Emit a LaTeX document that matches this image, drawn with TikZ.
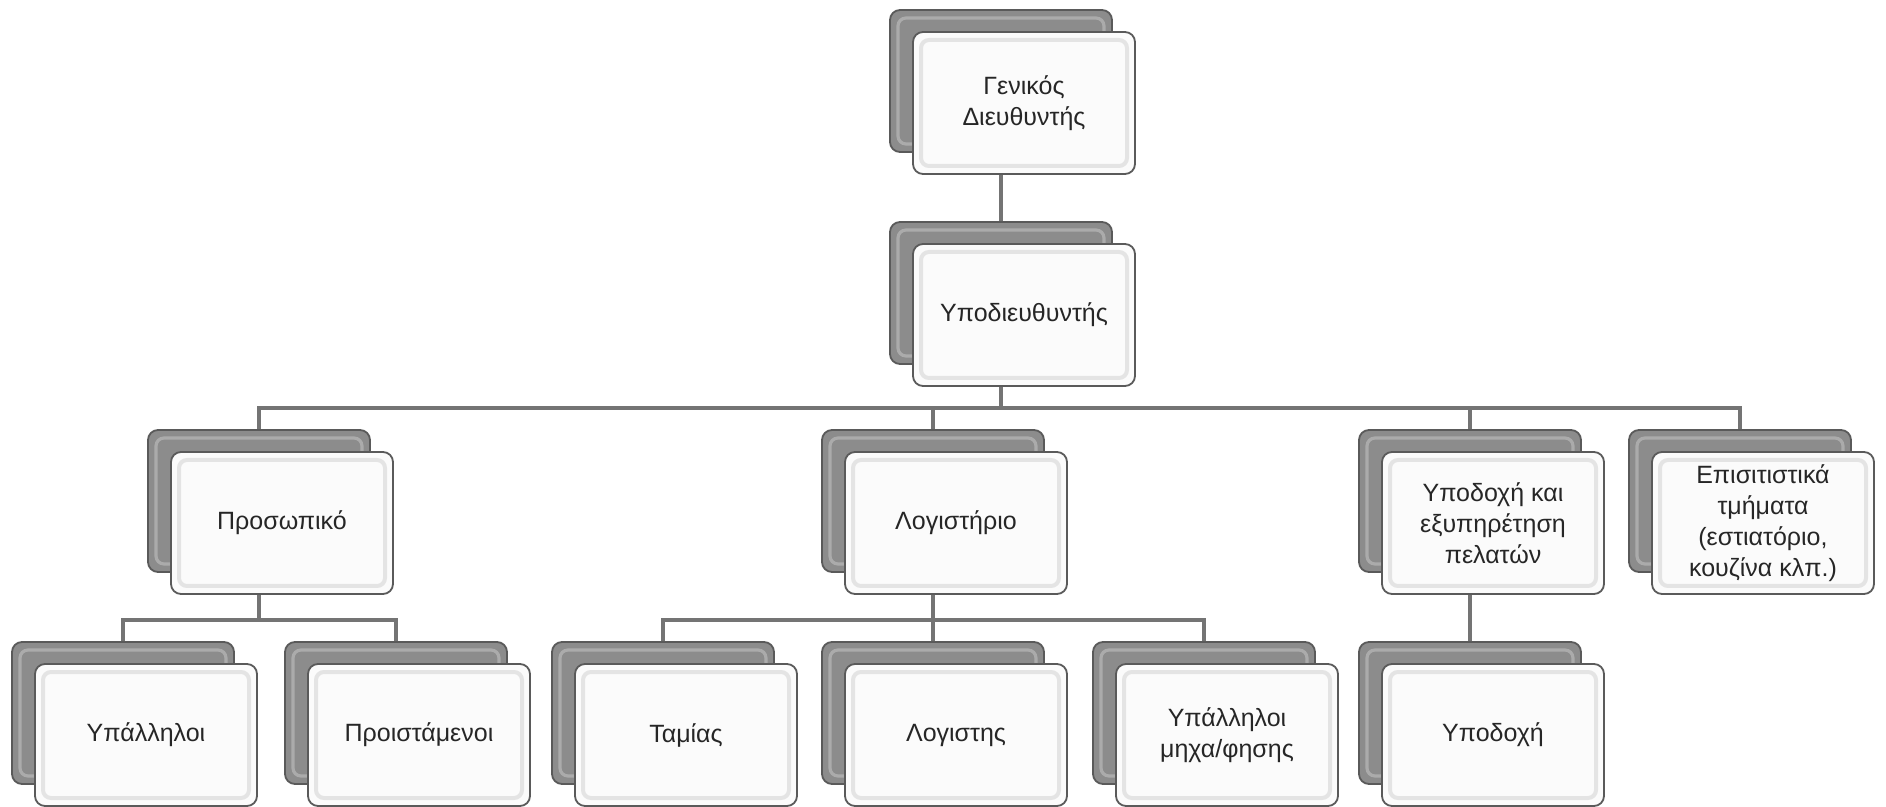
\documentclass[tikz,border=0pt]{standalone}
\usepackage{fontspec}
\setmainfont{Liberation Sans}
\usetikzlibrary{positioning}
\definecolor{OEdge}{HTML}{5A5A5A}
\definecolor{OBack}{HTML}{8C8C8C}
\definecolor{OHigh}{HTML}{ABABAB}
\definecolor{OFace}{HTML}{FBFBFB}
\definecolor{OBevel}{HTML}{E4E4E4}
\definecolor{OLine}{HTML}{747474}

\begin{document}
\begin{tikzpicture}[
  x=0.5pt,y=-0.5pt,
  every node/.style={font=\fontsize{12.5}{15.5}\selectfont},
  bk/.style={draw=OEdge,line width=0.9pt,rounded corners=5pt,fill=OBack,
    minimum width=111pt,minimum height=71pt,inner sep=0pt,
    path picture={\draw[OHigh,line width=1.6pt,rounded corners=4pt]
      ([shift={(4pt,4pt)}]path picture bounding box.south west) rectangle
      ([shift={(-4pt,-4pt)}]path picture bounding box.north east);}},
  fr/.style={draw=OEdge,line width=0.9pt,rounded corners=5pt,fill=OFace,
    minimum width=111pt,minimum height=71pt,inner sep=2pt,align=center,
    text=black!85,
    path picture={\draw[OBevel,line width=2pt,rounded corners=4pt]
      ([shift={(4pt,4pt)}]path picture bounding box.south west) rectangle
      ([shift={(-4pt,-4pt)}]path picture bounding box.north east);}},
  ln/.style={draw=OLine,line width=1.8pt}
]
  \useasboundingbox (0,0) rectangle (1886,807);
  \coordinate (bus1) at (0,408);
  \coordinate (bus2) at (0,620);
  % back cards
  \node[bk] (gd) at (1001,81) {};
  \node[bk] (yd) at (1001,293) {};
  \node[bk] (pros) at (259,501) {};
  \node[bk] (log) at (933,501) {};
  \node[bk] (ypex) at (1470,501) {};
  \node[bk] (epis) at (1740,501) {};
  \node[bk] (ypal) at (123,713) {};
  \node[bk] (proist) at (396,713) {};
  \node[bk] (tam) at (663,713) {};
  \node[bk] (logis) at (933,713) {};
  \node[bk] (ymix) at (1204,713) {};
  \node[bk] (ypod) at (1470,713) {};
  % front cards
  \node[fr] (gdF) at ([shift={(23,22)}]gd) {Γενικός\\Διευθυντής};
  \node[fr] (ydF) at ([shift={(23,22)}]yd) {Υποδιευθυντής};
  \node[fr] (prosF) at ([shift={(23,22)}]pros) {Προσωπικό};
  \node[fr] (logF) at ([shift={(23,22)}]log) {Λογιστήριο};
  \node[fr] (ypexF) at ([shift={(23,22)}]ypex) {Υποδοχή και\\εξυπηρέτηση\\πελατών};
  \node[fr] (episF) at ([shift={(23,22)}]epis) {Επισιτιστικά\\τμήματα\\(εστιατόριο,\\κουζίνα κλπ.)};
  \node[fr] (ypalF) at ([shift={(23,22)}]ypal) {Υπάλληλοι};
  \node[fr] (proistF) at ([shift={(23,22)}]proist) {Προιστάμενοι};
  \node[fr] (tamF) at ([shift={(23,22)}]tam) {Ταμίας};
  \node[fr] (logisF) at ([shift={(23,22)}]logis) {Λογιστης};
  \node[fr] (ymixF) at ([shift={(23,22)}]ymix) {Υπάλληλοι\\μηχα/φησης};
  \node[fr] (ypodF) at ([shift={(23,22)}]ypod) {Υποδοχή};
  % connectors
  \draw[ln] (gd |- gdF.south) -- (yd.north);
  \foreach \c in {pros,log,ypex,epis}
    {\draw[ln] (yd |- ydF.south) -- (yd |- bus1) -| (\c.north);}
  \foreach \c in {ypal,proist}
    {\draw[ln] (pros |- prosF.south) -- (pros |- bus2) -| (\c.north);}
  \foreach \c in {tam,logis,ymix}
    {\draw[ln] (log |- logF.south) -- (log |- bus2) -| (\c.north);}
  \draw[ln] (ypex |- ypexF.south) -- (ypod.north);
\end{tikzpicture}
\end{document}
